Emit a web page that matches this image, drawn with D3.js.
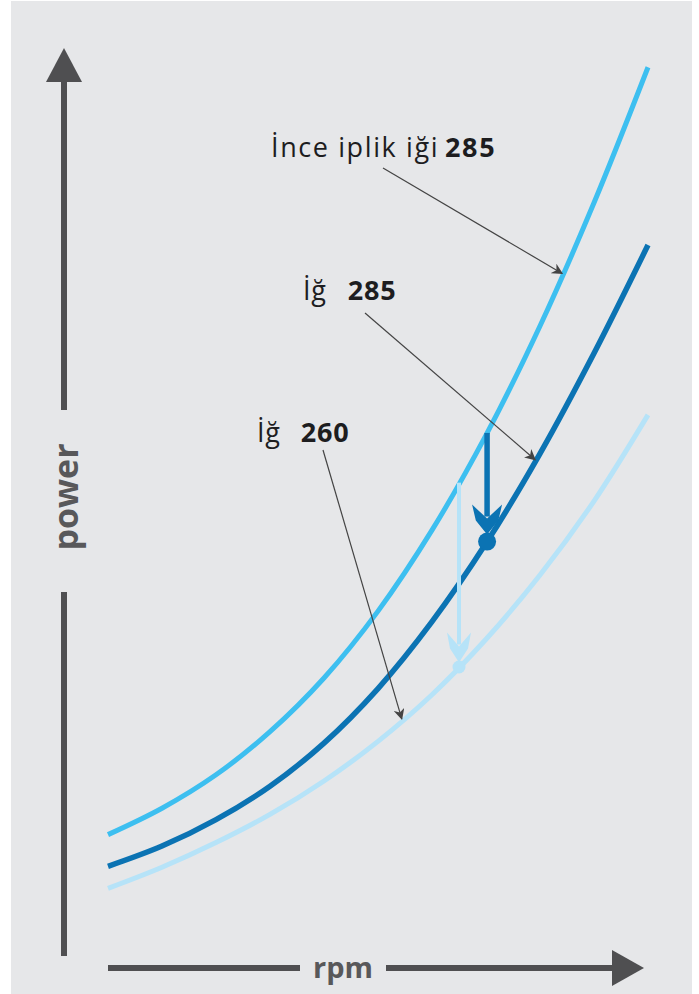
<!DOCTYPE html>
<html>
<head>
<meta charset="utf-8">
<script src="https://cdn.jsdelivr.net/npm/d3@7"></script>
<style>
  html, body { margin: 0; padding: 0; background: #fff; }
  svg { display: block; }
  text { font-family: "Open Sans", Lato, sans-serif; }
</style>
</head>
<body>
<svg width="699" height="994"></svg>
<script>
// rpm steps (schematic, 0..100)
const rpm = [0, 10, 20, 30, 40, 50, 60, 70, 80, 90, 100];
// power readings (schematic, 0..100)
const powerFine285 = [9.7, 12.7, 16.5, 21.4, 27.5, 35.1, 44.3, 55.1, 67.5, 81.5, 96.9];
const power285 = [6.1, 8.4, 11.4, 15.2, 20.1, 26.3, 33.9, 42.8, 53.0, 64.4, 76.7];
const power260 = [3.6, 6.0, 8.8, 12.0, 15.8, 20.3, 25.6, 31.9, 39.2, 47.6, 57.4];

const seriesNames = ["İnce iplik iği", "İğ", "İğ"];
const seriesNumbers = ["285", "285", "260"];
const seriesColors = ["#3dbff0", "#0b73b3", "#b6e3f8"];
// rpm where each label's leader line touches its curve
const leaderRpm = [84.1, 79.1, 54.4];
// rpm where the drop arrows sit
const dropRpm = [70.2, 65.0];

const svg = d3.select("svg");
const W = 699, H = 994;

const x = d3.scaleLinear().domain([0, 100]).range([108, 648]);
const y = d3.scaleLinear().domain([0, 100]).range([920, 40]);

// background panel
svg.append("rect").attr("x", 11).attr("y", 1).attr("width", 681).attr("height", H - 1)
   .attr("fill", "#e6e7e9");

const defs = svg.append("defs");
defs.append("marker")
    .attr("id", "lead")
    .attr("viewBox", "0 0 10 10")
    .attr("refX", 9).attr("refY", 5)
    .attr("markerWidth", 11).attr("markerHeight", 11)
    .attr("markerUnits", "userSpaceOnUse")
    .attr("orient", "auto")
    .append("path")
    .attr("d", "M0,0 L10,5 L0,10 L3,5 Z")
    .attr("fill", "#444");

const series = [powerFine285, power285, power260];

// value on a series at any rpm (linear between readings)
function valueAt(vals, r) {
    const i = Math.min(rpm.length - 2, Math.floor(r / 10));
    const t = (r - rpm[i]) / (rpm[i + 1] - rpm[i]);
    return vals[i] + (vals[i + 1] - vals[i]) * t;
}

const line = d3.line()
    .x((d, i) => x(rpm[i]))
    .y(d => y(d))
    .curve(d3.curveCatmullRom);

// curves, pale one first
[2, 0, 1].forEach(k => {
    svg.append("path")
       .attr("d", line(series[k]))
       .attr("fill", "none")
       .attr("stroke", seriesColors[k])
       .attr("stroke-width", k === 1 ? 5.5 : 5);
});

// drop arrows: from fine-spindle curve down to the 285 / 260 curves
function dropArrow(r, toVals, color, w, dotR, headW) {
    const cx = x(r);
    const y0 = y(valueAt(powerFine285, r));
    const y1 = y(valueAt(toVals, r));
    const tip = y1 - dotR + 2;
    svg.append("line")
       .attr("x1", cx).attr("x2", cx)
       .attr("y1", y0).attr("y2", tip - 18)
       .attr("stroke", color).attr("stroke-width", w);
    svg.append("path")
       .attr("d", `M${cx - headW},${tip - 30} L${cx},${tip - 16} L${cx + headW},${tip - 30} L${cx + headW * 0.75},${tip - 14} L${cx},${tip} L${cx - headW * 0.75},${tip - 14} Z`)
       .attr("fill", color);
    svg.append("circle").attr("cx", cx).attr("cy", y1).attr("r", dotR).attr("fill", color);
}
dropArrow(dropRpm[1], power260, seriesColors[2], 4, 6.5, 12);
dropArrow(dropRpm[0], power285, seriesColors[1], 5.5, 9, 15);

// axes
const axisColor = "#4f4f51";
svg.append("line").attr("x1", 64).attr("x2", 64).attr("y1", 78).attr("y2", 410)
   .attr("stroke", axisColor).attr("stroke-width", 6);
svg.append("line").attr("x1", 64).attr("x2", 64).attr("y1", 592).attr("y2", 956)
   .attr("stroke", axisColor).attr("stroke-width", 6);
svg.append("path").attr("d", "M64,48 L82,82 L46,82 Z").attr("fill", axisColor);

svg.append("line").attr("x1", 108).attr("x2", 300).attr("y1", 968).attr("y2", 968)
   .attr("stroke", axisColor).attr("stroke-width", 6);
svg.append("line").attr("x1", 386).attr("x2", 616).attr("y1", 968).attr("y2", 968)
   .attr("stroke", axisColor).attr("stroke-width", 6);
svg.append("path").attr("d", "M612,950 L644,968 L612,986 Z").attr("fill", axisColor);

svg.append("text")
   .attr("transform", "translate(78,497) rotate(-90)")
   .attr("text-anchor", "middle")
   .attr("font-size", 34).attr("font-weight", 700)
   .attr("fill", "#58585a")
   .text("power");
svg.append("text")
   .attr("x", 343).attr("y", 978)
   .attr("text-anchor", "middle")
   .attr("font-size", 29).attr("font-weight", 700)
   .attr("fill", "#58585a")
   .text("rpm");

// labels with leader lines
const labelPos = [[271, 157, 383, 168], [303, 300, 365, 313], [257, 442, 323, 450]];
const numberGap = [6, 21, 20];
const labelSpacing = [1.6, 0.8, 0.8];
series.forEach((vals, k) => {
    const [lx, ly, sx, sy] = labelPos[k];
    const t = svg.append("text").attr("x", lx).attr("y", ly)
        .attr("font-size", 27).attr("letter-spacing", labelSpacing[k]).attr("fill", "#1d1d1f");
    t.append("tspan").text(seriesNames[k]);
    t.append("tspan").attr("dx", numberGap[k]).attr("font-weight", 700).text(seriesNumbers[k]);
    svg.append("line")
       .attr("x1", sx).attr("y1", sy)
       .attr("x2", x(leaderRpm[k])).attr("y2", y(valueAt(vals, leaderRpm[k])) - 2)
       .attr("stroke", "#444").attr("stroke-width", 1.2)
       .attr("marker-end", "url(#lead)");
});
</script>
</body>
</html>
